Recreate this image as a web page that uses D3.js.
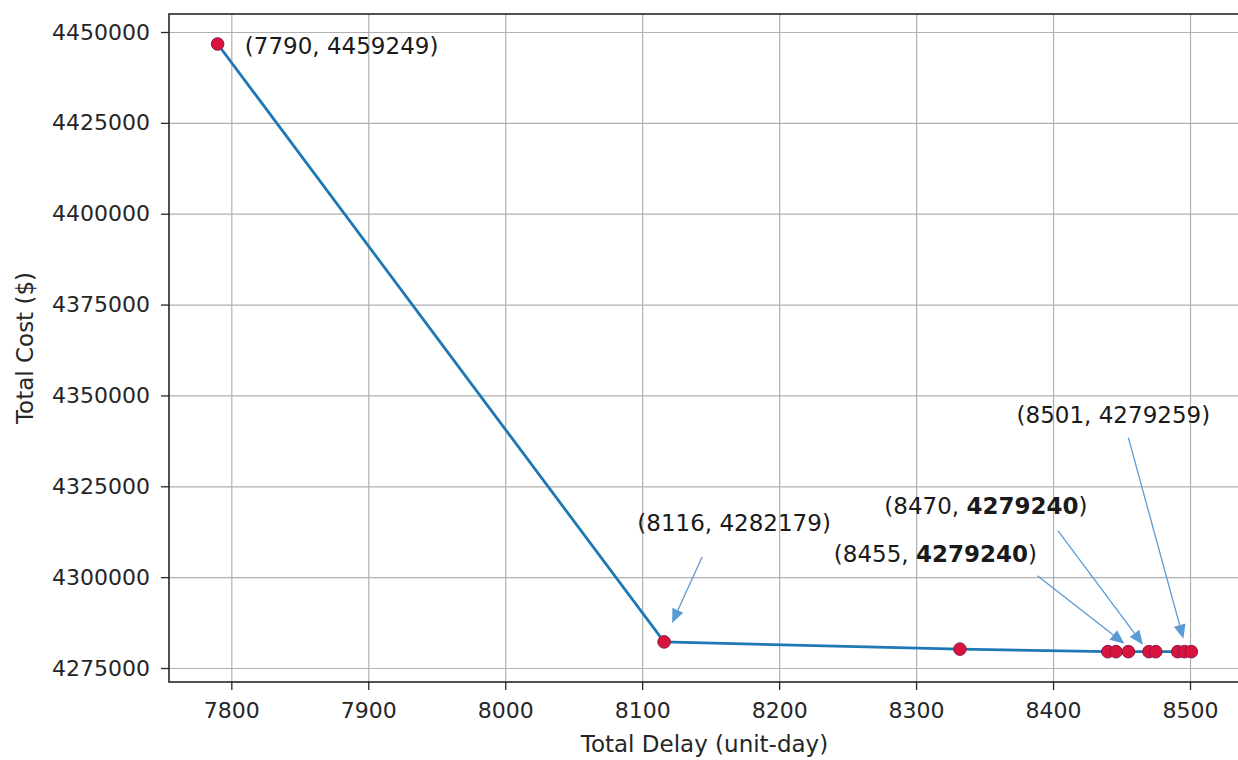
<!DOCTYPE html>
<html>
<head>
<meta charset="utf-8">
<script src="https://cdn.jsdelivr.net/npm/d3@7"></script>
<style>
  body { margin: 0; background: #fff; }
  .axis text { font-family: "DejaVu Sans", sans-serif; font-size: 22px; fill: #262626; }
  .axis path { display: none; }
  .axis line { stroke: #262626; stroke-width: 1.3; }
  .grid line { stroke: #b0b0b0; stroke-width: 1.2; }
  .grid path { display: none; }
  .grid text { display: none; }
</style>
</head>
<body>
<div class="chart"></div>
<script>
// DATA ------------------------------------
const delay = [7790, 8116, 8332, 8440, 8446, 8455, 8470, 8475, 8491, 8496, 8501];
const cost = [4446700, 4282179, 4280200, 4279500, 4279500, 4279500, 4279500, 4279500, 4279500, 4279500, 4279500];

const xTicks = [7800, 7900, 8000, 8100, 8200, 8300, 8400, 8500];
const yTicks = [4275000, 4300000, 4325000, 4350000, 4375000, 4400000, 4425000, 4450000];

// annotations: which point, the label, whether the cost part is bold
const annoIndex = [0, 1, 5, 6, 10];
const annoDelay = ['7790', '8116', '8455', '8470', '8501'];
const annoCost = ['4459249', '4282179', '4279240', '4279240', '4279259'];
const annoBold = [false, false, true, true, false];

// CHART INIT ------------------------------
const W = 1238, H = 760;
const plot = { left: 169, top: 14, right: 1240, bottom: 682 };

const svg = d3.select('.chart')
    .append('svg')
    .attr('width', W)
    .attr('height', H);

const xScale = d3.scaleLinear()
    .domain([7754.5, 8536.5])
    .range([plot.left, plot.right]);

const yScale = d3.scaleLinear()
    .domain([4271150, 4454950])
    .range([plot.bottom, plot.top]);

// grid
svg.append('g')
    .attr('class', 'grid')
    .attr('transform', `translate(0, ${plot.bottom})`)
    .call(d3.axisBottom(xScale).tickValues(xTicks).tickSize(-(plot.bottom - plot.top)));

svg.append('g')
    .attr('class', 'grid')
    .attr('transform', `translate(${plot.left}, 0)`)
    .call(d3.axisLeft(yScale).tickValues(yTicks).tickSize(-(plot.right - plot.left)));

// axes
svg.append('g')
    .attr('class', 'axis')
    .attr('transform', `translate(0, ${plot.bottom})`)
    .call(d3.axisBottom(xScale).tickValues(xTicks).tickSize(8).tickPadding(12).tickFormat(d3.format('d')));

svg.append('g')
    .attr('class', 'axis')
    .attr('transform', `translate(${plot.left}, 0)`)
    .call(d3.axisLeft(yScale).tickValues(yTicks).tickSize(8).tickPadding(11).tickFormat(d3.format('d')));

// frame
svg.append('rect')
    .attr('x', plot.left)
    .attr('y', plot.top)
    .attr('width', plot.right - plot.left)
    .attr('height', plot.bottom - plot.top)
    .attr('fill', 'none')
    .attr('stroke', '#262626')
    .attr('stroke-width', 1.6);

// axis titles
svg.append('text')
    .attr('x', (plot.left + plot.right) / 2)
    .attr('y', 752)
    .attr('text-anchor', 'middle')
    .attr('font-family', 'DejaVu Sans, sans-serif')
    .attr('font-size', 23)
    .attr('fill', '#262626')
    .text('Total Delay (unit-day)');

svg.append('text')
    .attr('transform', `translate(33, ${(plot.top + plot.bottom) / 2}) rotate(-90)`)
    .attr('text-anchor', 'middle')
    .attr('font-family', 'DejaVu Sans, sans-serif')
    .attr('font-size', 23)
    .attr('fill', '#262626')
    .text('Total Cost ($)');

// line + points
const points = delay.map((d, i) => ({ x: d, y: cost[i] }));

svg.append('path')
    .datum(points)
    .attr('fill', 'none')
    .attr('stroke', '#1f77b4')
    .attr('stroke-width', 2.8)
    .attr('d', d3.line().x(d => xScale(d.x)).y(d => yScale(d.y)));

svg.selectAll('circle.pt')
    .data(points)
    .enter()
    .append('circle')
    .attr('class', 'pt')
    .attr('cx', d => xScale(d.x))
    .attr('cy', d => yScale(d.y))
    .attr('r', 6.3)
    .attr('fill', '#d8143e')
    .attr('stroke', '#8e1846')
    .attr('stroke-width', 1);

// ANNOTATIONS -----------------------------
// text centre, arrow start and arrow tip, as pixel offsets from the point
const annoLayout = [
    { tx: 124, ty: 2 },
    { tx: 70, ty: -119, from: [38, -85], to: [8, -19] },
    { tx: -193, ty: -98, from: [-91, -76], to: [-4, -8] },
    { tx: -163, ty: -146, from: [-91, -121], to: [-6, -7] },
    { tx: -78, ty: -237, from: [-63, -214], to: [-8, -13] }
];

const arrowColor = '#5b9bd5';

annoIndex.forEach((idx, k) => {
    const px = xScale(delay[idx]);
    const py = yScale(cost[idx]);
    const lay = annoLayout[k];

    const t = svg.append('text')
        .attr('x', px + lay.tx)
        .attr('y', py + lay.ty)
        .attr('text-anchor', 'middle')
        .attr('dominant-baseline', 'central')
        .attr('font-family', 'DejaVu Sans, sans-serif')
        .attr('font-size', 23)
        .attr('fill', '#1a1a1a');
    t.append('tspan').text('(' + annoDelay[k] + ', ');
    t.append('tspan').attr('font-weight', annoBold[k] ? 'bold' : 'normal').text(annoCost[k]);
    t.append('tspan').text(')');

    if (lay.from) {
        const x1 = px + lay.from[0], y1 = py + lay.from[1];
        const x2 = px + lay.to[0], y2 = py + lay.to[1];
        const ang = Math.atan2(y2 - y1, x2 - x1);
        const hl = 14, hw = 6;
        const bx = x2 - hl * Math.cos(ang), by = y2 - hl * Math.sin(ang);
        svg.append('line')
            .attr('x1', x1).attr('y1', y1)
            .attr('x2', bx).attr('y2', by)
            .attr('stroke', arrowColor)
            .attr('stroke-width', 1.3);
        svg.append('path')
            .attr('d', `M${x2},${y2}L${bx + hw * Math.sin(ang)},${by - hw * Math.cos(ang)}L${bx - hw * Math.sin(ang)},${by + hw * Math.cos(ang)}Z`)
            .attr('fill', arrowColor);
    }
});
</script>
</body>
</html>
